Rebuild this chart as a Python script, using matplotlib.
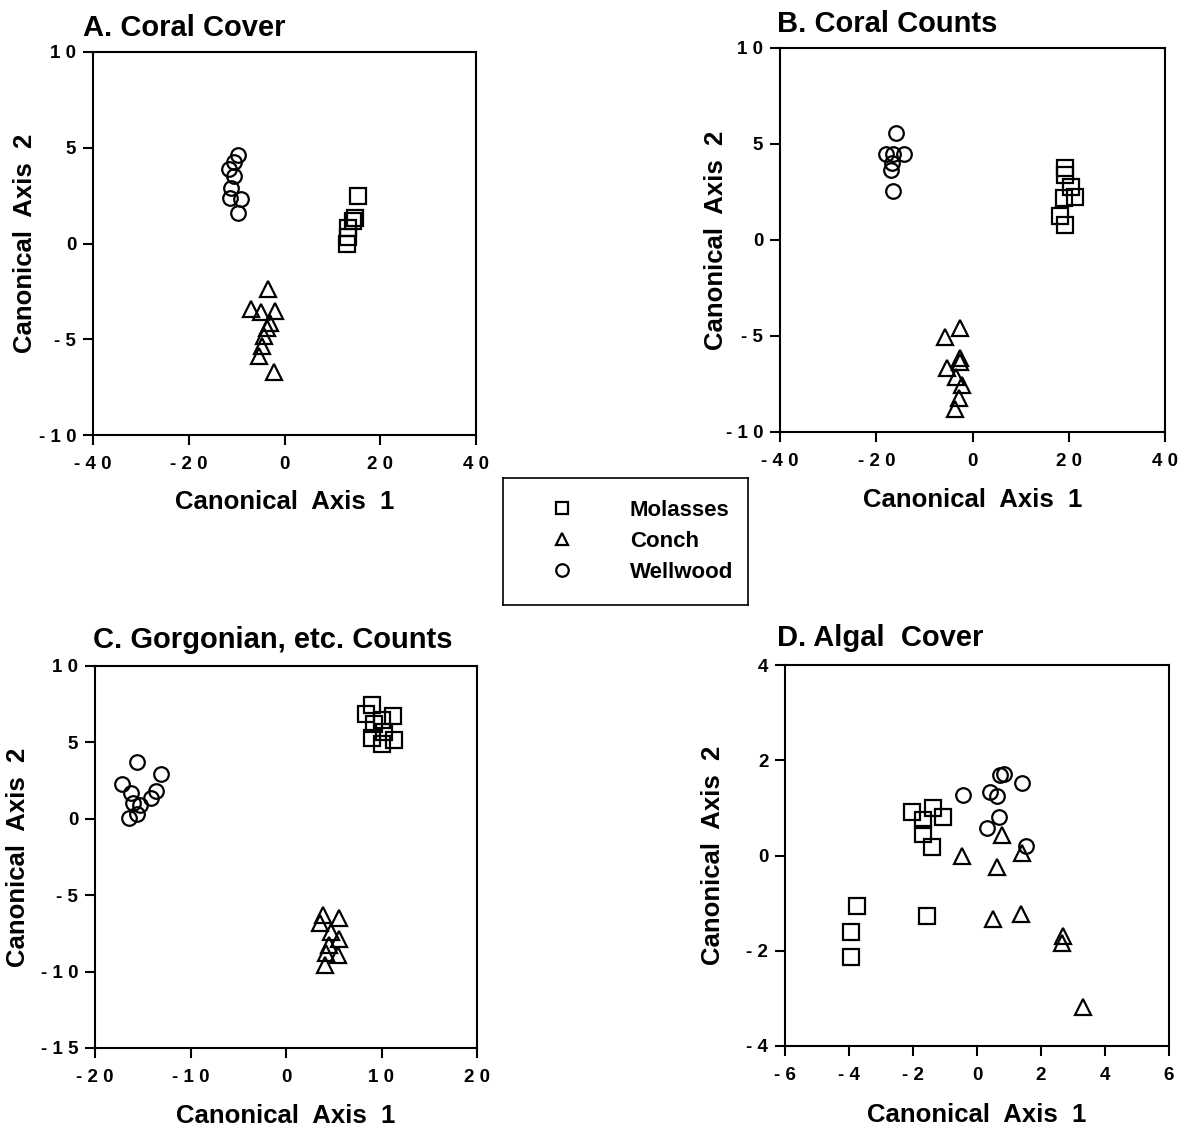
import matplotlib
matplotlib.use("Agg")
import matplotlib.pyplot as plt
from matplotlib.lines import Line2D

plt.rcParams['font.family'] = ['Liberation Sans', 'DejaVu Sans']
plt.rcParams['font.weight'] = 'bold'

# ---------------- data ----------------
# Panel A: Coral Cover
a_mol_x = [15.4, 14.8, 14.3, 13.3, 13.3, 13.1]
a_mol_y = [2.5, 1.35, 1.15, 0.83, 0.36, 0.0]
a_con_x = [-3.5, -6.9, -5.0, -1.9, -3.1, -3.7, -4.2, -4.8, -5.4, -2.1]
a_con_y = [-2.4, -3.44, -3.6, -3.54, -4.17, -4.43, -4.84, -5.36, -5.9, -6.7]
a_wel_x = [-9.8, -10.6, -11.6, -10.6, -11.2, -11.4, -9.1, -9.8]
a_wel_y = [4.64, 4.27, 3.9, 3.54, 2.9, 2.35, 2.3, 1.6]

# Panel B: Coral Counts
b_mol_x = [19.3, 19.3, 20.4, 21.4, 19.1, 18.1, 19.3]
b_mol_y = [3.75, 3.39, 2.76, 2.24, 2.19, 1.25, 0.78]
b_con_x = [-2.5, -5.8, -2.5, -2.7, -5.2, -3.5, -2.1, -2.9, -3.7]
b_con_y = [-4.58, -5.05, -6.15, -6.35, -6.67, -7.14, -7.55, -8.23, -8.8]
b_wel_x = [-15.8, -17.9, -16.6, -14.3, -16.8, -17.0, -16.6]
b_wel_y = [5.57, 4.48, 4.48, 4.48, 4.0, 3.65, 2.55]

# Panel C: Gorgonian, etc. Counts
c_mol_x = [9.05, 8.4, 10.0, 11.2, 9.2, 10.3, 11.3, 9.05, 10.1]
c_mol_y = [7.43, 6.84, 6.45, 6.7, 6.19, 5.67, 5.15, 5.28, 4.89]
c_con_x = [3.9, 3.6, 5.5, 4.7, 5.5, 4.5, 4.2, 5.4, 4.1]
c_con_y = [-6.32, -6.84, -6.51, -7.43, -7.88, -8.27, -8.8, -8.93, -9.58]
c_wel_x = [-15.6, -13.05, -17.2, -16.2, -13.6, -14.1, -16.0, -15.3, -15.6, -16.4]
c_wel_y = [3.71, 2.93, 2.28, 1.69, 1.82, 1.37, 1.04, 0.91, 0.33, 0.07]

# Panel D: Algal Cover
d_mol_x = [-2.03, -1.38, -1.06, -1.69, -1.69, -1.41, -3.75, -3.94, -3.94, -1.56]
d_mol_y = [0.92, 0.99, 0.8, 0.74, 0.46, 0.17, -1.07, -1.6, -2.14, -1.28]
d_con_x = [-0.47, 0.78, 0.63, 1.41, 0.5, 1.38, 2.69, 2.66, 3.31]
d_con_y = [-0.02, 0.42, -0.25, 0.06, -1.34, -1.22, -1.68, -1.83, -3.19]
d_wel_x = [-0.44, 0.41, 0.63, 0.72, 0.84, 1.41, 0.69, 0.31, 1.53]
d_wel_y = [1.28, 1.34, 1.24, 1.68, 1.72, 1.53, 0.8, 0.57, 0.19]

titles = ["A. Coral Cover", "B. Coral Counts", "C. Gorgonian, etc. Counts", "D. Algal  Cover"]
xlabel = "Canonical  Axis  1"
ylabel = "Canonical  Axis  2"
sites = ["Molasses", "Conch", "Wellwood"]

a_xticks = [-40, -20, 0, 20, 40]
a_xtl = ["- 4 0", "- 2 0", "0", "2 0", "4 0"]
a_yticks = [-10, -5, 0, 5, 10]
a_ytl = ["- 1 0", "- 5", "0", "5", "1 0"]
c_xticks = [-20, -10, 0, 10, 20]
c_xtl = ["- 2 0", "- 1 0", "0", "1 0", "2 0"]
c_yticks = [-15, -10, -5, 0, 5, 10]
c_ytl = ["- 1 5", "- 1 0", "- 5", "0", "5", "1 0"]
d_xticks = [-6, -4, -2, 0, 2, 4, 6]
d_xtl = ["- 6", "- 4", "- 2", "0", "2", "4", "6"]
d_yticks = [-4, -2, 0, 2, 4]
d_ytl = ["- 4", "- 2", "0", "2", "4"]

# ---------------- figure ----------------
W, H = 1179, 1128
fig = plt.figure(figsize=(W / 100, H / 100), dpi=100)


def px_axes(l, t, r, b):
    return fig.add_axes([l / W, 1 - b / H, (r - l) / W, (b - t) / H])


markers = ['s', '^', 'o']
msize = [11, 11, 10.5]

panels = [
    dict(box=(93, 52, 476, 435), data=[(a_mol_x, a_mol_y), (a_con_x, a_con_y), (a_wel_x, a_wel_y)],
         xlim=(-40, 40), ylim=(-10, 10), xt=a_xticks, xtl=a_xtl, yt=a_yticks, ytl=a_ytl,
         title_dx=-10, title_dy=24, xl_dy=67, yl_dx=68),
    dict(box=(780, 48, 1165, 432), data=[(b_mol_x, b_mol_y), (b_con_x, b_con_y), (b_wel_x, b_wel_y)],
         xlim=(-40, 40), ylim=(-10, 10), xt=a_xticks, xtl=a_xtl, yt=a_yticks, ytl=a_ytl,
         title_dx=-3, title_dy=24, xl_dy=68, yl_dx=64),
    dict(box=(95, 666, 477, 1048), data=[(c_mol_x, c_mol_y), (c_con_x, c_con_y), (c_wel_x, c_wel_y)],
         xlim=(-20, 20), ylim=(-15, 10), xt=c_xticks, xtl=c_xtl, yt=c_yticks, ytl=c_ytl,
         title_dx=-2, title_dy=26, xl_dy=68, yl_dx=77),
    dict(box=(785, 665, 1169, 1046), data=[(d_mol_x, d_mol_y), (d_con_x, d_con_y), (d_wel_x, d_wel_y)],
         xlim=(-6, 6), ylim=(-4, 4), xt=d_xticks, xtl=d_xtl, yt=d_yticks, ytl=d_ytl,
         title_dx=-8, title_dy=27, xl_dy=69, yl_dx=72),
]

for p, title in zip(panels, titles):
    l, t, r, b = p['box']
    ax = px_axes(l, t, r, b)
    wpx, hpx = r - l, b - t
    for (xs, ys), m, ms in zip(p['data'], markers, msize):
        ax.plot(xs, ys, linestyle='none', marker=m, markersize=ms,
                markerfacecolor='none', markeredgecolor='black', markeredgewidth=1.6)
    ax.set_xlim(*p['xlim'])
    ax.set_ylim(*p['ylim'])
    ax.set_xticks(p['xt'])
    ax.set_xticklabels(p['xtl'])
    ax.set_yticks(p['yt'])
    ax.set_yticklabels(p['ytl'])
    ax.tick_params(direction='out', length=7, width=1.5, labelsize=13.5, pad=5,
                   top=False, right=False)
    ax.tick_params(axis='x', pad=8)
    for lab in ax.get_xticklabels() + ax.get_yticklabels():
        lab.set_fontweight('bold')
    for s in ax.spines.values():
        s.set_linewidth(1.5)
    ax.text(p['title_dx'] / wpx, 1 + p['title_dy'] / hpx, title, transform=ax.transAxes,
            ha='left', va='center', fontsize=21, fontweight='bold')
    ax.set_xlabel(xlabel, fontsize=18.5, fontweight='bold')
    ax.xaxis.set_label_coords(0.5, -p['xl_dy'] / hpx)
    ax.xaxis.label.set_va('center')
    ax.set_ylabel(ylabel, fontsize=18.5, fontweight='bold')
    ax.yaxis.set_label_coords(-p['yl_dx'] / wpx, 0.5)
    ax.yaxis.label.set_va('center')

# legend box
lb_l, lb_t, lb_r, lb_b = 503, 478, 748, 605
lax = px_axes(lb_l, lb_t, lb_r, lb_b)
lax.set_xticks([])
lax.set_yticks([])
for s in lax.spines.values():
    s.set_linewidth(1.2)
handles = [Line2D([], [], linestyle='none', marker=m, markersize=9,
                  markerfacecolor='none', markeredgecolor='black', markeredgewidth=1.6)
           for m in markers]
fs_leg = 16
handle_half_px = 1.5 * fs_leg / 72 * 100 / 2
pad_px = 0.4 * fs_leg / 72 * 100
anchor_x = (551 - handle_half_px - pad_px - lb_l) / (lb_r - lb_l)
lax.legend(handles, sites, loc='center left', bbox_to_anchor=(anchor_x, 0.5), frameon=False,
           prop={'size': fs_leg, 'weight': 'bold'}, handletextpad=2.3, labelspacing=0.45,
           handlelength=1.5, borderpad=0.4)

fig.savefig("out.png", dpi=100, facecolor='white')
